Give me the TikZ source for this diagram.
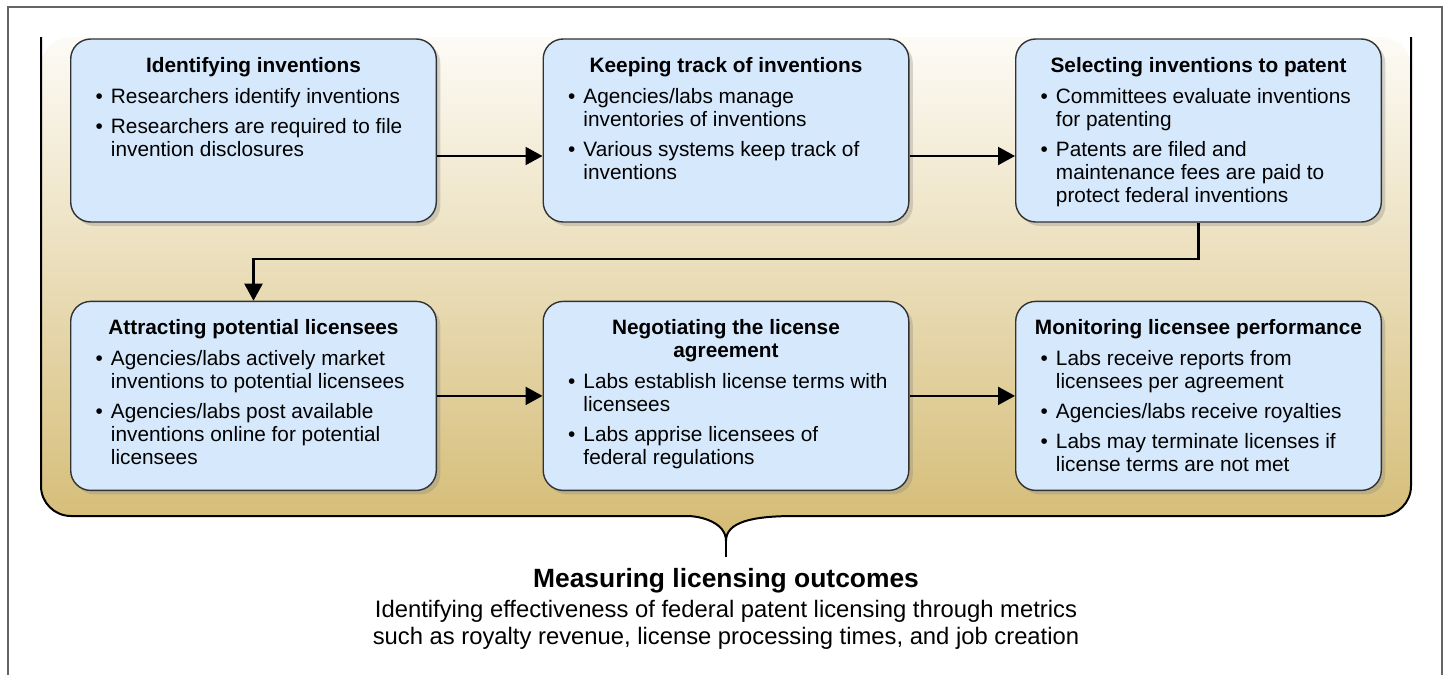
\documentclass[tikz,border=0pt]{standalone}
\usepackage{fontspec}
\setmainfont{Liberation Sans}
\usepackage{xcolor}
\usetikzlibrary{arrows.meta,positioning,shadows}

\definecolor{boxblue}{RGB}{214,232,251}
\definecolor{boxline}{RGB}{50,50,50}
\definecolor{paneltan}{RGB}{212,187,115}
\definecolor{panelhi}{RGB}{253,251,246}
\definecolor{framegray}{RGB}{100,100,100}

\newcommand{\boxfont}{\fontsize{10.4}{11.5}\selectfont}
\newenvironment{points}[1][4.5pt]{\hspace*{#1}\begin{tabular}[t]{@{}l@{\hspace{4pt}}l@{}}}{\end{tabular}}
% outline of the tan panel, open at the top
\newcommand{\panelpath}{(41,37) [rounded corners=15pt] -- (41,516) -- (657,516) [sharp corners]
  .. controls (700,516) and (726,522) .. (726,541) .. controls (726,522) and (752,516) .. (795,516)
  [rounded corners=15pt] -- (1411,516) -- (1411,37)}

\begin{document}
\begin{tikzpicture}[x=0.5pt, y=-0.5pt, >={Triangle[length=8.5pt,width=9pt]},
    node distance=52.75pt,
    stage/.style={draw=boxline, line width=0.7pt, fill=boxblue, rounded corners=10pt,
      drop shadow={shadow xshift=2pt, shadow yshift=-2pt, opacity=0.3},
      inner xsep=8pt, inner ysep=9pt, font=\boxfont,
      execute at begin node={\begin{minipage}[c][#1][t]{166.8pt}},
      execute at end node={\end{minipage}}},
    stage/.default=73.5pt,
    flow/.style={->, line width=1.1pt},
    panel line/.style={line width=1pt}]

  \useasboundingbox (0,0) rectangle (1448,675);
  \fill[white] (0,0) rectangle (1448,675);
  \draw[framegray, line width=0.6pt] (8,675) -- (8,7) -- (1442,7) -- (1442,675);

  % panel with brace
  \shade[top color=panelhi, bottom color=paneltan] \panelpath -- cycle;
  \draw[panel line] \panelpath;
  \draw[panel line] (726,541) -- (726,557);

  \node[stage] (id) at (253.5,130.5) {{\centering\bfseries Identifying inventions\par}\vspace{4pt}
    \begin{points}\textbullet & Researchers identify inventions\\[3.5pt]
    \textbullet & Researchers are required to file\\ & invention disclosures\end{points}};
  \node[stage, right=of id] (kt) {{\centering\bfseries Keeping track of inventions\par}\vspace{4pt}
    \begin{points}\textbullet & Agencies/labs manage\\ & inventories of inventions\\[3.5pt]
    \textbullet & Various systems keep track of\\ & inventions\end{points}};
  \node[stage, right=of kt] (sp) {{\centering\bfseries Selecting inventions to patent\par}\vspace{4pt}
    \begin{points}\textbullet & Committees evaluate inventions\\ & for patenting\\[3.5pt]
    \textbullet & Patents are filed and\\ & maintenance fees are paid to\\ & protect federal inventions\end{points}};

  \node[stage=76.5pt, below=39pt of id] (at) {{\centering\bfseries Attracting potential licensees\par}\vspace{4pt}
    \begin{points}\textbullet & Agencies/labs actively market\\ & inventions to potential licensees\\[3.5pt]
    \textbullet & Agencies/labs post available\\ & inventions online for potential\\ & licensees\end{points}};
  \node[stage=76.5pt, right=of at] (nl) {{\centering\bfseries Negotiating the license\\agreement\par}\vspace{4pt}
    \begin{points}\textbullet & Labs establish license terms with\\ & licensees\\[3.5pt]
    \textbullet & Labs apprise licensees of\\ & federal regulations\end{points}};
  \node[stage=76.5pt, right=of nl] (ml) {{\centering\bfseries Monitoring licensee performance\par}\vspace{4pt}
    \begin{points}\textbullet & Labs receive reports from\\ & licensees per agreement\\[3.5pt]
    \textbullet & Agencies/labs receive royalties\\[3.5pt]
    \textbullet & Labs may terminate licenses if\\ & license terms are not met\end{points}};

  \draw[flow] ([yshift=-12.75pt]id.east) -- ([yshift=-12.75pt]kt.west);
  \draw[flow] ([yshift=-12.75pt]kt.east) -- ([yshift=-12.75pt]sp.west);
  \draw[flow] (sp.south) -- ++(0,-18pt) -| (at.north);
  \draw[flow] (at.east) -- (nl.west);
  \draw[flow] (nl.east) -- (ml.west);

  \node[font=\bfseries\fontsize{13.2}{15}\selectfont, inner sep=0pt] (mo) at (726,581) {Measuring licensing outcomes};
  \node[font=\fontsize{11.9}{13.5}\selectfont, align=center, inner sep=0pt, below=3pt of mo] (me)
    {Identifying effectiveness of federal patent licensing through metrics\\
     such as royalty revenue, license processing times, and job creation};
\end{tikzpicture}
\end{document}
